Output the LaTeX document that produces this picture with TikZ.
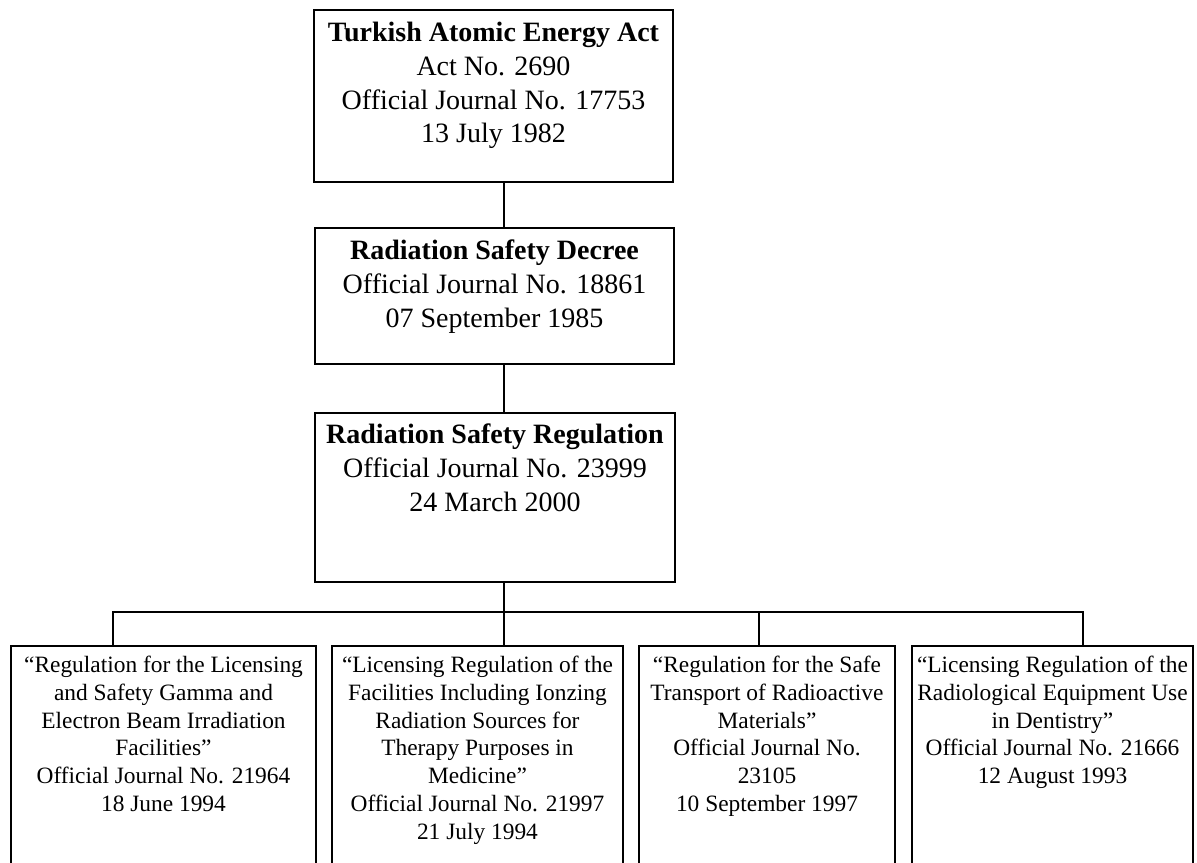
\documentclass[tikz,border=0pt]{standalone}
\usepackage{fontspec}
\setmainfont{Liberation Serif}
\begin{document}
\begin{tikzpicture}[x=0.75pt,y=-0.75pt,
  box/.style={draw, line width=2.2pt, inner sep=0pt},
  link/.style={line width=1.8pt},
  headtxt/.style={anchor=north, inner sep=0pt, align=center,
    font=\fontsize{21}{25.3}\selectfont},
  subtxt/.style={anchor=north, inner sep=0pt, align=center,
    font=\fontsize{17.55}{20.8}\selectfont}]
\clip (0,0) rectangle (1197,863);
\fill[white] (0,0) rectangle (1197,863);

% main chain of legislation
\node[box, minimum width=269.25pt, minimum height=129pt] (act) at (493.5,96) {};
\node[headtxt] (acttxt) at (493.5,22)
  {\textbf{Turkish Atomic Energy Act}\\Act No. 2690\\Official Journal No. 17753\\13 July 1982};

\node[box, minimum width=269.25pt, minimum height=102pt] (decree) at (494.5,296) {};
\node[headtxt] (decreetxt) at (494.5,240)
  {\textbf{Radiation Safety Decree}\\Official Journal No. 18861\\07 September 1985};

\node[box, minimum width=270pt, minimum height=126.75pt] (reg) at (495,497.5) {};
\node[headtxt] (regtxt) at (495,424)
  {\textbf{Radiation Safety Regulation}\\Official Journal No. 23999\\24 March 2000};

% subordinate regulations
\node[box, minimum width=228.75pt, minimum height=175.5pt] (sub1) at (163.5,763) {};
\node[subtxt] (sub1txt) at (163.5,656)
  {“Regulation for the Licensing\\and Safety Gamma and\\Electron Beam Irradiation\\Facilities”\\Official Journal No. 21964\\18 June 1994};

\node[box, minimum width=218.25pt, minimum height=175.5pt] (sub2) at (477.5,763) {};
\node[subtxt] (sub2txt) at (477.5,656)
  {“Licensing Regulation of the\\Facilities Including Ionzing\\Radiation Sources for\\Therapy Purposes in\\Medicine”\\Official Journal No. 21997\\21 July 1994};

\node[box, minimum width=192pt, minimum height=175.5pt] (sub3) at (767,763) {};
\node[subtxt] (sub3txt) at (767,656)
  {“Regulation for the Safe\\Transport of Radioactive\\Materials”\\Official Journal No.\\23105\\10 September 1997};

\node[box, minimum width=210.75pt, minimum height=175.5pt] (sub4) at (1052.5,763) {};
\node[subtxt] (sub4txt) at (1052.5,656)
  {“Licensing Regulation of the\\Radiological Equipment Use\\in Dentistry”\\Official Journal No. 21666\\12 August 1993};

% connector positions
\coordinate (spine) at (504,0);
\coordinate (bus) at (0,612);
\coordinate (d1) at (113,0);
\coordinate (d3) at (759,0);
\coordinate (d4) at (1083,0);

\draw[link] (act.south -| spine) -- (decree.north -| spine);
\draw[link] (decree.south -| spine) -- (reg.north -| spine);
\draw[link] (reg.south -| spine) -- (sub2.north -| spine);
\draw[link] (sub1.north -| d1) -- (bus -| d1) -- (bus -| d4) -- (sub4.north -| d4);
\draw[link] (bus -| d3) -- (sub3.north -| d3);
\end{tikzpicture}
\end{document}
